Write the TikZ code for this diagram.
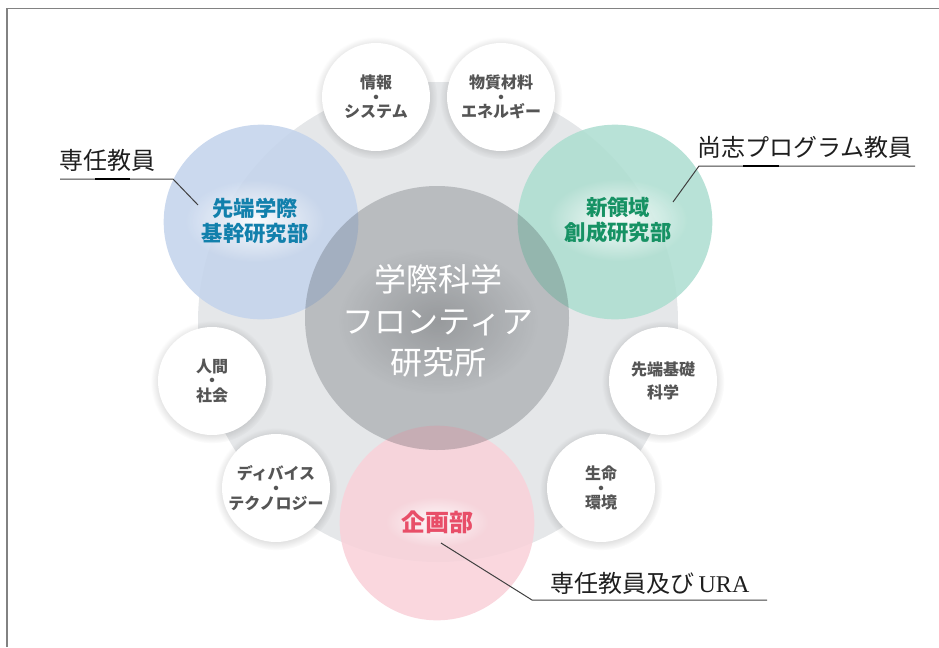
\documentclass[tikz,border=0pt]{standalone}
\usepackage{fontspec}
\setmainfont{Liberation Serif}
\newfontfamily\jp{Noto Sans CJK JP}
\usetikzlibrary{fadings,shapes.geometric}
\tikzfading[name=glowfade, inner color=transparent!0, outer color=transparent!100]
\newcommand{\smallcirclefont}{\jp\bfseries\fontsize{12}{11}\selectfont\lineskiplimit=-20pt\relax}
\definecolor{bgc}{RGB}{229,231,233}
\definecolor{ctr}{RGB}{55,60,66}
\definecolor{bluec}{RGB}{196,212,236}
\definecolor{greenc}{RGB}{174,222,209}
\definecolor{pinkc}{RGB}{249,210,218}
\definecolor{bluet}{RGB}{18,128,172}
\definecolor{greent}{RGB}{22,146,100}
\definecolor{pinkt}{RGB}{232,78,104}
\definecolor{smallt}{RGB}{85,85,85}
\definecolor{framec}{RGB}{130,130,130}
\definecolor{labelt}{RGB}{30,30,30}
\begin{document}
\begin{tikzpicture}[x=0.75pt,y=-0.75pt,
  bigcircle/.style={circle, fill=bgc, minimum size=360pt, inner sep=0pt},
  softshadow/.style={circle, fill=black, fill opacity=0.16, path fading=circle with fuzzy edge 20 percent, minimum size=92pt, inner sep=0pt},
  smallcircle/.style={circle, fill=white, minimum size=81pt, inner sep=0pt,
     text=smallt, align=center, font=\smallcirclefont},
  deptcircle/.style={circle, minimum size=146pt, inner sep=0pt, fill opacity=0.88},
  centercircle/.style={circle, fill=ctr, fill opacity=0.25, minimum size=198pt, inner sep=0pt},
  glow/.style={ellipse, fill=white, path fading=glowfade, fill opacity=0.9, inner sep=0pt},
  darkglow/.style={ellipse, fill=black, path fading=glowfade, fill opacity=0.18, inner sep=0pt},
  depttext/.style={align=center, font=\jp\bfseries\fontsize{16}{19}\selectfont},
  labeltext/.style={text=labelt, font=\jp\fontsize{18}{20}\selectfont, inner sep=0pt},
  leader/.style={draw=labelt!85, line width=0.75pt},
  leaderthick/.style={draw=black, line width=1.6pt}
]
\useasboundingbox (0,0) rectangle (939,647);
\draw[framec, line width=0.9pt] (7,647) -- (7,8.5) -- (939,8.5);

% background circle
\node[bigcircle] (bg) at (438,322) {};

% soft shadows of the small circles
\node[softshadow] (infosh) at (376,98) {};
\node[softshadow] (matsh) at (501,98) {};
\node[softshadow] (humansh) at (212,382) {};
\node[softshadow] (devsh) at (276,489) {};
\node[softshadow] (basicsh) at (663,382) {};
\node[softshadow] (lifesh) at (601,489) {};

% small white circles
\node[smallcircle] (info) at (376,97) {情報\\・\\システム};
\node[smallcircle] (mat) at (501,97) {物質材料\\・\\エネルギー};
\node[smallcircle] (human) at (212,381) {人間\\・\\社会};
\node[smallcircle] (dev) at (276,488) {ディバイス\\・\\テクノロジー};
\node[smallcircle] (basic) at (663,381) {先端基礎\\[6pt]科学};
\node[smallcircle] (life) at (601,488) {生命\\・\\環境};

% department circles
\node[deptcircle, fill=bluec] (blue) at (261,222) {};
\node[deptcircle, fill=greenc] (green) at (615,222) {};
\node[deptcircle, fill=pinkc] (pink) at (437,523) {};

% center circle
\node[centercircle] (center) at (437,318) {};

% glows behind department texts
\node[glow, minimum width=105pt, minimum height=62pt] (bglow) at (255,221) {};
\node[glow, minimum width=105pt, minimum height=62pt] (gglow) at (618,220) {};
\node[glow, minimum width=78pt, minimum height=38pt] (pglow) at (437,522) {};

\node[depttext, text=bluet] (bluelab) at (255,221) {先端学際\\基幹研究部};
\node[depttext, text=greent] (greenlab) at (618,220) {新領域\\創成研究部};
\node[depttext, text=pinkt, font=\jp\bfseries\fontsize{18}{20}\selectfont] (pinklab) at (437,522) {企画部};

% center text with dark soft glow
\node[darkglow, minimum width=150pt, minimum height=110pt] (cglow) at (438,321) {};
\node[text=white, align=center, font=\jp\fontsize{24}{31}\selectfont] (centerlab) at (438,321) {学際科学\\フロンティア\\研究所};

% labels
\node[labeltext] (lab1) at (107,160) {専任教員};
\node[labeltext] (lab2) at (805,147) {尚志プログラム教員};
\node[labeltext] (lab3) at (650,583) {専任教員及び\,{\rmfamily URA}};

% leader lines
\coordinate (l1a) at (60,179);
\coordinate (l1b) at (173,179);
\coordinate (l1c) at (198,205);
\coordinate (l1t1) at (95,179);
\coordinate (l1t2) at (130,179);
\draw[leader] (l1a) -- (l1b) -- (l1c);
\draw[leaderthick] (l1t1) -- (l1t2);

\coordinate (l2a) at (915,166);
\coordinate (l2b) at (699,166);
\coordinate (l2c) at (673,202);
\coordinate (l2t1) at (743,166);
\coordinate (l2t2) at (779,166);
\draw[leader] (l2a) -- (l2b) -- (l2c);
\draw[leaderthick] (l2t1) -- (l2t2);

\coordinate (l3a) at (767,600);
\coordinate (l3b) at (532,600);
\coordinate (l3c) at (441,543);
\draw[leader] (l3a) -- (l3b) -- (l3c);
\end{tikzpicture}
\end{document}
